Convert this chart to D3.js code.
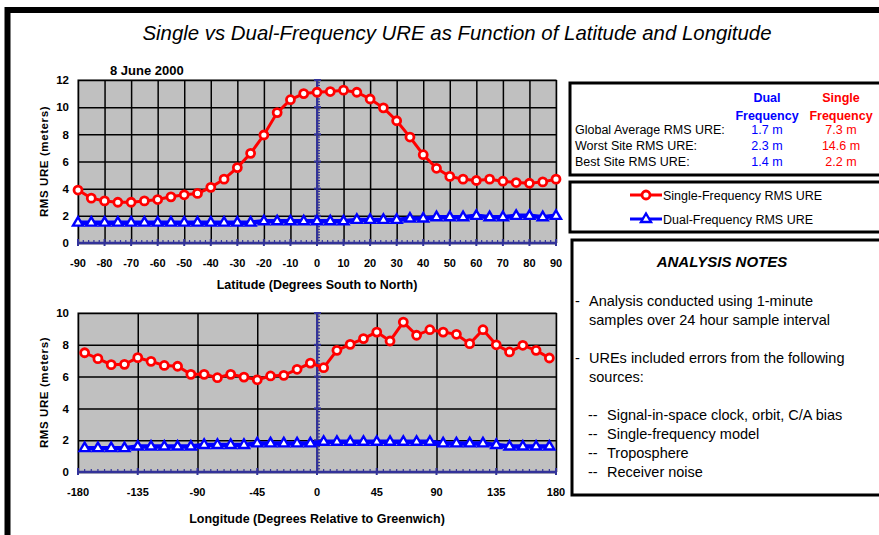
<!DOCTYPE html>
<html>
<head>
<meta charset="utf-8">
<script src="https://cdn.jsdelivr.net/npm/d3@7"></script>
<style>
  body { margin: 0; background: #fff; }
  text { font-family: "Liberation Sans", Arial, sans-serif; }
</style>
</head>
<body>
<div id="chart"></div>
<script>
// latitude chart data (every 5 deg)
let latitudes = [-90, -85, -80, -75, -70, -65, -60, -55, -50, -45, -40, -35, -30, -25, -20, -15, -10, -5, 0,
  5, 10, 15, 20, 25, 30, 35, 40, 45, 50, 55, 60, 65, 70, 75, 80, 85, 90];
let latSingle = [3.9, 3.3, 3.1, 3.0, 3.0, 3.1, 3.2, 3.4, 3.55, 3.65, 4.1, 4.7, 5.55, 6.6, 7.95, 9.6, 10.55, 11.0, 11.1,
  11.15, 11.25, 11.1, 10.6, 9.95, 9.0, 7.8, 6.5, 5.5, 4.9, 4.7, 4.6, 4.7, 4.55, 4.45, 4.4, 4.5, 4.7];
let latDual = [1.5, 1.5, 1.5, 1.5, 1.5, 1.5, 1.5, 1.5, 1.5, 1.5, 1.5, 1.5, 1.5, 1.5, 1.6, 1.6, 1.6, 1.6, 1.6,
  1.6, 1.6, 1.7, 1.7, 1.7, 1.7, 1.8, 1.8, 1.9, 1.9, 1.9, 2.0, 1.9, 1.9, 2.0, 2.0, 1.9, 2.0];
let latTicks = [-90, -80, -70, -60, -50, -40, -30, -20, -10, 0, 10, 20, 30, 40, 50, 60, 70, 80, 90];

// longitude chart data (every 10 deg)
let longitudes = [-175, -165, -155, -145, -135, -125, -115, -105, -95, -85, -75, -65, -55, -45, -35, -25, -15, -5,
  5, 15, 25, 35, 45, 55, 65, 75, 85, 95, 105, 115, 125, 135, 145, 155, 165, 175];
let lonSingle = [7.5, 7.13, 6.75, 6.77, 7.19, 6.96, 6.7, 6.65, 6.14, 6.14, 5.93, 6.14, 5.97, 5.8, 6.04, 6.08, 6.46, 6.85,
  6.56, 7.65, 8.03, 8.39, 8.8, 8.24, 9.43, 8.6, 8.95, 8.8, 8.66, 8.07, 8.95, 8.0, 7.55, 7.97, 7.65, 7.17];
let lonDual = [1.5, 1.5, 1.5, 1.5, 1.6, 1.6, 1.6, 1.6, 1.6, 1.7, 1.7, 1.7, 1.7, 1.8, 1.8, 1.8, 1.8, 1.8,
  1.9, 1.9, 1.9, 1.9, 1.9, 1.9, 1.9, 1.9, 1.9, 1.8, 1.8, 1.8, 1.8, 1.7, 1.6, 1.6, 1.6, 1.6];
let lonTicks = [-180, -135, -90, -45, 0, 45, 90, 135, 180];

// stats table
let statRows = ["Global Average RMS URE:", "Worst Site RMS URE:", "Best Site RMS URE:"];
let statDual = ["1.7 m", "2.3 m", "1.4 m"];
let statSingle = ["7.3 m", "14.6 m", "2.2 m"];

let notes = [
  ["-", "Analysis conducted using 1-minute", 301],
  ["", "samples over 24 hour sample interval", 320],
  ["-", "UREs included errors from the following", 358],
  ["", "sources:", 377]];
let sources = ["Signal-in-space clock, orbit, C/A bias", "Single-frequency model", "Troposphere", "Receiver noise"];

const w = 879, h = 535;
const RED = "#ff0000", BLUE = "#0000ff", NAVY = "#333399";

const svg = d3.select("#chart").
append("svg").
attr("width", w).
attr("height", h);

svg.append("rect").attr("width", w).attr("height", h).attr("fill", "#fff");

// outer frame (only top and left edges show)
svg.append("path").
attr("d", "M7.5,535 V10 H879").
attr("fill", "none").
attr("stroke", "#000").
attr("stroke-width", 6);

svg.append("text").
attr("x", 457).
attr("y", 40).
attr("text-anchor", "middle").
attr("font-size", 20.4).
attr("font-style", "italic").
text("Single vs Dual-Frequency URE as Function of Latitude and Longitude");

svg.append("text").
attr("x", 110).
attr("y", 75).
attr("font-size", 13).
attr("font-weight", "bold").
text("8 June 2000");

function triangle(g, x, y) {
  g.append("path").
  attr("d", `M${x},${y - 5.5}L${x + 5},${y + 3}L${x - 5},${y + 3}Z`).
  attr("fill", "#fff").
  attr("stroke", BLUE).
  attr("stroke-width", 2.4);
}

function drawChart(cfg) {
  const x = d3.scaleLinear().domain(cfg.xDomain).range([78, 556]);
  const y = d3.scaleLinear().domain([0, cfg.yMax]).range([cfg.bottom, cfg.top]);
  const g = svg.append("g");

  g.append("rect").
  attr("x", 78).attr("y", cfg.top).
  attr("width", 478).attr("height", cfg.bottom - cfg.top).
  attr("fill", "#c0c0c0").
  attr("stroke", "#808080").
  attr("stroke-width", 1.5);

  // gridlines
  g.append("g").
  call(d3.axisBottom(x).tickValues(cfg.ticks).tickSize(-(cfg.bottom - cfg.top)).tickFormat("")).
  attr("transform", `translate(0,${cfg.bottom})`).
  call(a => a.select(".domain").remove()).
  call(a => a.selectAll("line").attr("stroke", "#000").attr("stroke-width", 1.5));

  g.append("g").
  call(d3.axisLeft(y).ticks(cfg.yMax / 2).tickSize(-478).tickFormat("")).
  attr("transform", "translate(78,0)").
  call(a => a.select(".domain").remove()).
  call(a => a.selectAll("line").attr("stroke", "#000").attr("stroke-width", 1.5));

  // y tick labels
  g.append("g").
  call(d3.axisLeft(y).ticks(cfg.yMax / 2).tickSize(0).tickPadding(9)).
  attr("transform", "translate(78,0)").
  call(a => a.select(".domain").remove()).
  call(a => a.selectAll("text").attr("font-size", 11.5).attr("font-weight", "bold").attr("fill", "#000").
    attr("font-family", "Liberation Sans, Arial, sans-serif"));

  // x axis (navy) with minor ticks
  let minor = d3.range(cfg.xDomain[0], cfg.xDomain[1] + 0.01, cfg.minorStep);
  g.append("line").
  attr("x1", 78).attr("x2", 556).
  attr("y1", cfg.bottom).attr("y2", cfg.bottom).
  attr("stroke", NAVY).attr("stroke-width", 2.5);
  g.selectAll(".xminor").
  data(minor).
  enter().
  append("line").
  attr("x1", d => x(d)).attr("x2", d => x(d)).
  attr("y1", cfg.bottom).attr("y2", cfg.bottom - 3).
  attr("stroke", NAVY).attr("stroke-width", 1.2);
  g.selectAll(".xmajor").
  data(cfg.ticks).
  enter().
  append("line").
  attr("x1", d => x(d)).attr("x2", d => x(d)).
  attr("y1", cfg.bottom + 3).attr("y2", cfg.bottom - 4).
  attr("stroke", NAVY).attr("stroke-width", 2);
  g.selectAll(".xlab").
  data(cfg.ticks).
  enter().
  append("text").
  attr("x", d => x(d)).
  attr("y", cfg.bottom + 24).
  attr("text-anchor", "middle").
  attr("font-size", 11).
  attr("font-weight", "bold").
  text(d => d);

  // y axis at x = 0
  let x0 = x(0);
  g.append("line").
  attr("x1", x0).attr("x2", x0).
  attr("y1", cfg.top).attr("y2", cfg.bottom).
  attr("stroke", NAVY).attr("stroke-width", 2);
  g.selectAll(".yminor").
  data(d3.range(0, cfg.yMax + 0.01, 0.2)).
  enter().
  append("line").
  attr("x1", x0).attr("x2", x0 + 3).
  attr("y1", d => y(d)).attr("y2", d => y(d)).
  attr("stroke", NAVY).attr("stroke-width", 1.2);
  g.selectAll(".ymajor").
  data(d3.range(0, cfg.yMax + 0.01, 2)).
  enter().
  append("line").
  attr("x1", x0 - 3).attr("x2", x0 + 4).
  attr("y1", d => y(d)).attr("y2", d => y(d)).
  attr("stroke", NAVY).attr("stroke-width", 2);

  // series
  const line = d3.line().x(d => x(d[0])).y(d => y(d[1]));
  let dual = cfg.xs.map((d, i) => [d, cfg.dual[i]]);
  let single = cfg.xs.map((d, i) => [d, cfg.single[i]]);

  g.append("path").
  datum(dual).
  attr("d", line).
  attr("fill", "none").
  attr("stroke", BLUE).
  attr("stroke-width", 4.5);
  dual.forEach(d => triangle(g, x(d[0]), y(d[1])));

  g.append("path").
  datum(single).
  attr("d", line).
  attr("fill", "none").
  attr("stroke", RED).
  attr("stroke-width", 3);
  g.selectAll(".dot").
  data(single).
  enter().
  append("circle").
  attr("cx", d => x(d[0])).
  attr("cy", d => y(d[1])).
  attr("r", 4).
  attr("fill", "#fff").
  attr("stroke", RED).
  attr("stroke-width", 2.8);

  // axis titles
  g.append("text").
  attr("x", 317).
  attr("y", cfg.bottom + cfg.titleOffset).
  attr("text-anchor", "middle").
  attr("font-size", 12.5).
  attr("font-weight", "bold").
  text(cfg.xTitle);

  g.append("text").
  attr("transform", `translate(48,${(cfg.top + cfg.bottom) / 2}) rotate(-90)`).
  attr("text-anchor", "middle").
  attr("font-size", 11.5).
  attr("letter-spacing", 0.6).
  attr("font-weight", "bold").
  text("RMS URE (meters)");
}

drawChart({
  xDomain: [-90, 90], ticks: latTicks, minorStep: 2, yMax: 12, top: 80, bottom: 243,
  xs: latitudes, single: latSingle, dual: latDual, xTitle: "Latitude (Degrees South to North)", titleOffset: 46
});

drawChart({
  xDomain: [-180, 180], ticks: lonTicks, minorStep: 5, yMax: 10, top: 313, bottom: 472,
  xs: longitudes, single: lonSingle, dual: lonDual, xTitle: "Longitude (Degrees Relative to Greenwich)", titleOffset: 51
});

// right side panels
const panel = svg.append("g");
[[570, 83, 92], [570, 182, 50], [572, 240, 255]].forEach(b => {
  panel.append("rect").
  attr("x", b[0]).attr("y", b[1]).
  attr("width", 330).attr("height", b[2]).
  attr("fill", "#fff").
  attr("stroke", "#000").
  attr("stroke-width", 3);
});

[["Dual", 102], ["Frequency", 120]].forEach(t => {
  panel.append("text").attr("x", 767).attr("y", t[1]).attr("text-anchor", "middle").
  attr("font-size", 12.5).attr("font-weight", "bold").attr("fill", BLUE).text(t[0]);
});
[["Single", 102], ["Frequency", 120]].forEach(t => {
  panel.append("text").attr("x", 841).attr("y", t[1]).attr("text-anchor", "middle").
  attr("font-size", 12.5).attr("font-weight", "bold").attr("fill", RED).text(t[0]);
});

statRows.forEach((r, i) => {
  let ty = 134 + i * 16;
  panel.append("text").attr("x", 575).attr("y", ty).attr("font-size", 12.5).text(r);
  panel.append("text").attr("x", 767).attr("y", ty).attr("text-anchor", "middle").
  attr("font-size", 12.5).attr("fill", BLUE).text(statDual[i]);
  panel.append("text").attr("x", 841).attr("y", ty).attr("text-anchor", "middle").
  attr("font-size", 12.5).attr("fill", RED).text(statSingle[i]);
});

// legend
panel.append("line").attr("x1", 630).attr("x2", 662).attr("y1", 195).attr("y2", 195).
attr("stroke", RED).attr("stroke-width", 3);
panel.append("circle").attr("cx", 646).attr("cy", 195).attr("r", 4).
attr("fill", "#fff").attr("stroke", RED).attr("stroke-width", 2.8);
panel.append("text").attr("x", 663).attr("y", 199.5).attr("font-size", 12.5).text("Single-Frequency RMS URE");

panel.append("line").attr("x1", 630).attr("x2", 662).attr("y1", 219).attr("y2", 219).
attr("stroke", BLUE).attr("stroke-width", 3);
triangle(panel, 646, 219);
panel.append("text").attr("x", 663).attr("y", 223.5).attr("font-size", 12.5).text("Dual-Frequency RMS URE");

// notes
panel.append("text").attr("x", 722).attr("y", 267).attr("text-anchor", "middle").
attr("font-size", 15).attr("font-weight", "bold").attr("font-style", "italic").text("ANALYSIS NOTES");

notes.forEach(n => {
  if (n[0]) panel.append("text").attr("x", 575).attr("y", n[2] + 5).attr("font-size", 14.5).text(n[0]);
  panel.append("text").attr("x", 589).attr("y", n[2] + 5).attr("font-size", 14.5).text(n[1]);
});

sources.forEach((s, i) => {
  let ty = 420 + i * 19;
  panel.append("text").attr("x", 588).attr("y", ty).attr("font-size", 14.5).text("--");
  panel.append("text").attr("x", 607).attr("y", ty).attr("font-size", 14.5).text(s);
});
</script>
</body>
</html>
